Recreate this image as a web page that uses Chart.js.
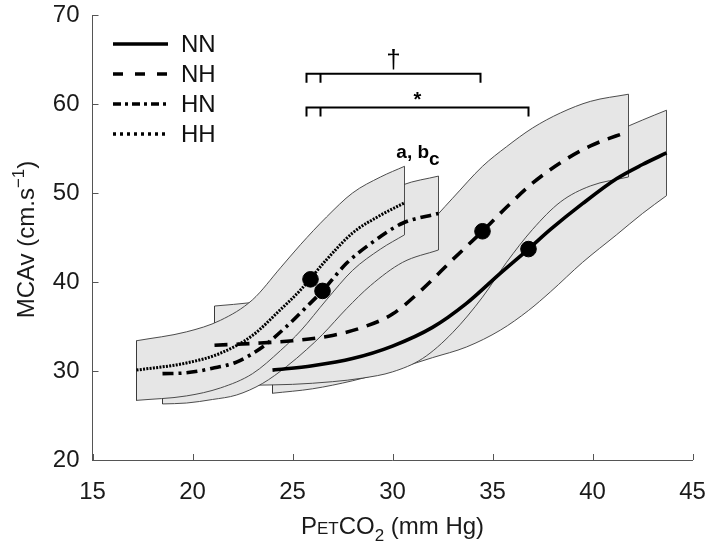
<!DOCTYPE html>
<html>
<head>
<meta charset="utf-8">
<script src="https://cdn.jsdelivr.net/npm/chart.js@4.4.1/dist/chart.umd.min.js"></script>
<style>
  html, body { margin: 0; padding: 0; background: #fff; }
</style>
</head>
<body>
<canvas id="myChart" width="709" height="554"></canvas>
<script>
// series names (legend order)
const seriesNames = ["NN", "NH", "HN", "HH"];

// axis ticks
const xTickValues = [15, 20, 25, 30, 35, 40, 45];
const yTickValues = [20, 30, 40, 50, 60, 70];

// NN: solid
const nnX     = [24.0, 26.0, 28.0, 30.0, 32.0, 33.7, 35.4, 36.8, 37.9, 39.5, 41.2, 42.5, 43.7];
const nnMean  = [30.1, 30.6, 31.4, 32.8, 34.9, 37.6, 41.0, 43.7, 45.9, 48.8, 51.6, 53.2, 54.5];
const nnUpper = [33.5, 34.6, 36.2, 38.3, 41.0, 44.0, 47.5, 50.2, 52.2, 54.8, 56.9, 58.2, 59.3];
const nnLower = [27.5, 28.0, 28.9, 30.1, 31.5, 32.7, 34.6, 36.8, 38.9, 42.2, 45.3, 47.7, 49.7];

// NH: dashed
const nhX     = [21.1, 23.0, 25.0, 27.0, 28.5, 30.0, 31.5, 33.0, 34.5, 35.7, 37.0, 38.4, 39.9, 41.8];
const nhMean  = [32.9, 33.1, 33.4, 34.0, 34.9, 36.4, 39.2, 42.5, 45.7, 48.4, 51.1, 53.4, 55.3, 56.9];
const nhUpper = [37.3, 37.7, 38.4, 39.6, 41.0, 43.0, 45.8, 49.4, 53.0, 55.2, 57.3, 59.0, 60.3, 61.1];
const nhLower = [28.3, 28.4, 28.5, 28.8, 29.2, 29.9, 31.4, 34.3, 38.3, 42.2, 45.9, 49.0, 50.8, 51.8];

// HN: dash-dot
const hnX     = [18.5, 19.7, 21.0, 22.2, 23.5, 24.7, 25.7, 26.5, 27.7, 28.9, 30.5, 32.3];
const hnMean  = [29.7, 29.8, 30.3, 31.0, 32.7, 35.0, 37.2, 39.0, 42.1, 44.3, 46.6, 47.7];
const hnUpper = [33.2, 33.5, 34.2, 35.3, 37.5, 40.2, 42.6, 44.3, 47.0, 49.0, 50.9, 51.9];
const hnLower = [26.3, 26.4, 26.8, 27.3, 28.6, 30.5, 32.4, 34.1, 37.0, 39.6, 42.2, 43.6];

// HH: dotted
const hhX     = [17.2, 19.7, 21.4, 23.0, 24.4, 25.4, 26.7, 28.0, 29.4, 30.6];
const hhMean  = [30.1, 30.9, 32.0, 34.0, 36.9, 39.1, 42.5, 45.5, 47.5, 48.9];
const hhUpper = [33.4, 34.4, 35.7, 38.0, 41.6, 44.2, 47.3, 50.0, 51.8, 53.0];
const hhLower = [26.7, 27.2, 28.1, 29.7, 32.3, 34.5, 38.0, 41.3, 43.7, 45.3];

// filled markers (NN, NH, HN, HH)
const dotX = [36.8, 34.5, 26.5, 25.9];
const dotY = [43.7, 45.7, 39.0, 40.3];

// significance brackets
const bracketLeftX = [25.7, 26.4];
const daggerRightX = 34.4;
const starRightX = 36.8;
const daggerLevel = [62.4, 63.4];
const starLevel = [58.6, 59.6];

const FONT = "'Liberation Sans', Arial, Helvetica, sans-serif";
Chart.defaults.font.family = FONT;

const BAND_FILL = "#e6e6e6";
const BAND_LINE = "#3a3a3a";

const pts = (xs, ys) => xs.map((x, i) => ({ x: x, y: ys[i] }));

const datasets = [];

// band = upper line filled down to lower line + end edges
function addBand(xs, up, lo, order) {
  const idx = datasets.length;
  datasets.push({
    data: pts(xs, up), showLine: true, fill: idx + 1,
    backgroundColor: BAND_FILL, borderColor: BAND_LINE, borderWidth: 0.9,
    cubicInterpolationMode: "monotone", pointRadius: 0, order: order + 3
  });
  datasets.push({
    data: pts(xs, lo), showLine: true, fill: false,
    borderColor: BAND_LINE, borderWidth: 0.9,
    cubicInterpolationMode: "monotone", pointRadius: 0, order: order + 2
  });
  const n = xs.length - 1;
  datasets.push({
    data: [
      { x: xs[0], y: up[0] }, { x: xs[0], y: lo[0] }, { x: xs[0], y: null },
      { x: xs[n], y: lo[n] }, { x: xs[n], y: up[n] }
    ],
    showLine: true, spanGaps: false, fill: false,
    borderColor: BAND_LINE, borderWidth: 0.9, pointRadius: 0, order: order + 1
  });
}

addBand(nnX, nnUpper, nnLower, 40);
addBand(nhX, nhUpper, nhLower, 30);
addBand(hnX, hnUpper, hnLower, 20);
addBand(hhX, hhUpper, hhLower, 10);

// mean curves
const styles = {
  NN: [],
  NH: [13, 9],
  HN: [11, 5, 3, 5],
  HH: [2, 1.3]
};
const means = { NN: [nnX, nnMean], NH: [nhX, nhMean], HN: [hnX, hnMean], HH: [hhX, hhMean] };
seriesNames.forEach(name => {
  datasets.push({
    label: name, data: pts(means[name][0], means[name][1]), showLine: true, fill: false,
    borderColor: "#000", borderWidth: name === "HH" ? 3 : 3.6, borderDash: styles[name],
    borderCapStyle: "butt", cubicInterpolationMode: "monotone", pointRadius: 0, order: 5
  });
});

// dots
datasets.push({
  data: pts(dotX, dotY), showLine: false, pointRadius: 7.8,
  pointBackgroundColor: "#000", pointBorderColor: "#000", order: 1
});

// brackets
function bracket(rightX, level) {
  return {
    data: [
      { x: bracketLeftX[0], y: level[0] }, { x: bracketLeftX[0], y: level[1] },
      { x: rightX, y: level[1] }, { x: rightX, y: level[0] }, { x: rightX, y: null },
      { x: bracketLeftX[1], y: level[1] }, { x: bracketLeftX[1], y: level[0] }
    ],
    showLine: true, spanGaps: false, fill: false, borderColor: "#000", borderWidth: 2,
    pointRadius: 0, order: 2
  };
}
datasets.push(bracket(daggerRightX, daggerLevel));
datasets.push(bracket(starRightX, starLevel));

// text drawn in pieces (sub/superscripts, small caps)
function drawPieces(ctx, pieces, cx, cy) {
  let total = 0;
  pieces.forEach(p => {
    ctx.font = (p.bold ? "bold " : "") + p.s + "px " + FONT;
    p.w = ctx.measureText(p.t).width;
    total += p.w;
  });
  let x = cx - total / 2;
  pieces.forEach(p => {
    ctx.font = (p.bold ? "bold " : "") + p.s + "px " + FONT;
    ctx.fillText(p.t, x, cy + (p.dy || 0));
    x += p.w;
  });
}

const decor = {
  id: "decor",
  afterDraw(chart) {
    const ctx = chart.ctx;
    const xs = chart.scales.x, ys = chart.scales.y, a = chart.chartArea;
    ctx.save();

    // inward ticks
    ctx.strokeStyle = "#555";
    ctx.lineWidth = 1;
    ctx.beginPath();
    xTickValues.forEach(v => {
      const px = Math.round(xs.getPixelForValue(v)) + 0.5;
      ctx.moveTo(px, a.bottom); ctx.lineTo(px, a.bottom - 6);
    });
    yTickValues.forEach(v => {
      const py = Math.round(ys.getPixelForValue(v)) + 0.5;
      ctx.moveTo(a.left, py); ctx.lineTo(a.left + 6, py);
    });
    ctx.stroke();

    // legend
    const legendDash = { NN: [], NH: [10, 12], HN: [8, 4, 3, 4], HH: [3, 4] };
    ctx.fillStyle = "#111";
    ctx.textBaseline = "middle";
    ctx.textAlign = "left";
    seriesNames.forEach((name, i) => {
      const y = 44 + i * 30;
      ctx.strokeStyle = "#000";
      ctx.lineWidth = 3.5;
      ctx.setLineDash(legendDash[name]);
      ctx.beginPath(); ctx.moveTo(113, y); ctx.lineTo(168, y); ctx.stroke();
      ctx.setLineDash([]);
      ctx.font = "24px " + FONT;
      ctx.fillText(name, 181, y + 1);
    });

    // significance symbols
    ctx.textAlign = "left";
    ctx.textBaseline = "alphabetic";
    ctx.fillStyle = "#000";
    const cxD = xs.getPixelForValue((bracketLeftX[0] + daggerRightX) / 2);
    const cxS = xs.getPixelForValue((bracketLeftX[0] + starRightX) / 2);
    drawPieces(ctx, [{ t: "\u2020", s: 26 }], cxD, ys.getPixelForValue(daggerLevel[1]) - 6);
    drawPieces(ctx, [{ t: "*", s: 20, bold: true }], cxS, ys.getPixelForValue(starLevel[1]) - 2);
    drawPieces(ctx, [{ t: "a, b", s: 19, bold: true }, { t: "c", s: 19, bold: true, dy: 7 }], 418, 158);

    // axis titles
    ctx.fillStyle = "#1a1a1a";
    drawPieces(ctx, [
      { t: "P", s: 24 }, { t: "ET", s: 17 }, { t: "CO", s: 24 },
      { t: "2", s: 17, dy: 7 }, { t: " (mm Hg)", s: 24 }
    ], (a.left + a.right) / 2, 534);

    ctx.translate(34, (a.top + a.bottom) / 2 + 2);
    ctx.rotate(-Math.PI / 2);
    drawPieces(ctx, [
      { t: "MCAv (cm.s", s: 24 }, { t: "\u22121", s: 17, dy: -10 }, { t: ")", s: 24 }
    ], 0, 0);

    ctx.restore();
  }
};

const ctx = document.getElementById("myChart").getContext("2d");
const chart = new Chart(ctx, {
  type: "scatter",
  data: { datasets: datasets },
  plugins: [decor],
  options: {
    responsive: false,
    animation: false,
    layout: { padding: { top: 15, right: 16.5, left: 0, bottom: 0 } },
    plugins: {
      legend: { display: false },
      tooltip: { enabled: false },
      filler: { drawTime: "beforeDatasetDraw" }
    },
    scales: {
      x: {
        type: "linear", min: 15, max: 45,
        afterBuildTicks: s => { s.ticks = xTickValues.map(v => ({ value: v })); },
        afterFit: s => { s.height = 94; s.paddingLeft = 0; s.paddingRight = 0; },
        ticks: { padding: 10, color: "#1a1a1a", font: { size: 24 } },
        grid: { display: false },
        border: { display: true, color: "#555", width: 1 }
      },
      y: {
        type: "linear", min: 20, max: 70,
        afterBuildTicks: s => { s.ticks = yTickValues.map(v => ({ value: v })); },
        afterFit: s => { s.width = 92.5; s.paddingTop = 0; s.paddingBottom = 0; },
        ticks: { padding: 5, color: "#1a1a1a", font: { size: 24 } },
        grid: { display: false },
        border: { display: true, color: "#555", width: 1 }
      }
    }
  }
});
</script>
</body>
</html>
